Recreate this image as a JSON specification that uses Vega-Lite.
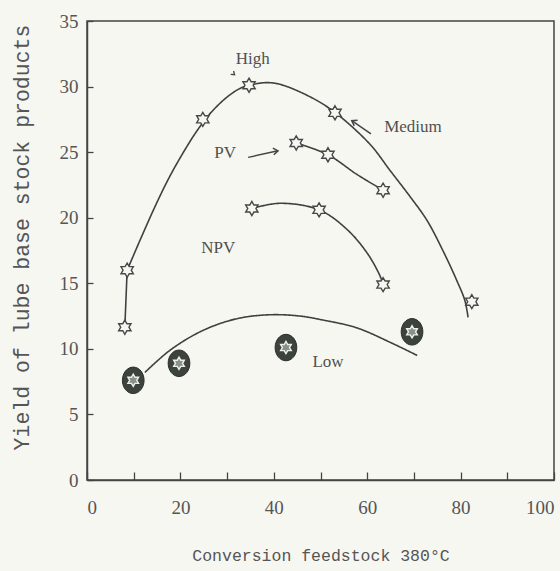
{
  "$schema": "https://vega.github.io/schema/vega-lite/v6.json",
  "width": 467,
  "height": 459,
  "autosize": {"type": "none"},
  "padding": {"left": 87, "top": 21, "right": 6, "bottom": 91},
  "background": "#f7f7f2",
  "config": {
    "view": {"stroke": "#444444", "strokeWidth": 1.5},
    "axis": {
      "grid": false,
      "domainColor": "#444444",
      "domainWidth": 1.5,
      "tickColor": "#444444",
      "tickWidth": 1.3,
      "labelColor": "#555555",
      "titleColor": "#555555",
      "labelFont": "Liberation Serif",
      "labelFontSize": 19,
      "titleFont": "Liberation Mono",
      "titleFontWeight": "normal"
    }
  },
  "datasets": {
    "curves": [
      {"series": "High", "part": 1, "x": 8.1, "y": 11.65},
      {"series": "High", "part": 1, "x": 8.6, "y": 16.0},
      {"series": "High", "part": 2, "x": 8.6, "y": 16.0},
      {"series": "High", "part": 2, "x": 11.5, "y": 18.4},
      {"series": "High", "part": 2, "x": 14.5, "y": 20.8},
      {"series": "High", "part": 2, "x": 17.5, "y": 23.0},
      {"series": "High", "part": 2, "x": 20.5, "y": 24.9},
      {"series": "High", "part": 2, "x": 23.5, "y": 26.6},
      {"series": "High", "part": 2, "x": 26.5, "y": 28.0},
      {"series": "High", "part": 2, "x": 30.0, "y": 29.2},
      {"series": "High", "part": 2, "x": 33.0, "y": 29.9},
      {"series": "High", "part": 2, "x": 36.0, "y": 30.2},
      {"series": "High", "part": 2, "x": 39.0, "y": 30.3},
      {"series": "High", "part": 2, "x": 42.0, "y": 30.1},
      {"series": "High", "part": 2, "x": 48.4, "y": 29.1},
      {"series": "High", "part": 2, "x": 53.2, "y": 28.0},
      {"series": "High", "part": 2, "x": 60.6, "y": 25.6},
      {"series": "High", "part": 2, "x": 64.9, "y": 23.6},
      {"series": "High", "part": 2, "x": 69.2, "y": 21.6},
      {"series": "High", "part": 2, "x": 72.8, "y": 19.8},
      {"series": "High", "part": 2, "x": 76.2, "y": 17.5},
      {"series": "High", "part": 2, "x": 79.2, "y": 15.2},
      {"series": "High", "part": 2, "x": 80.9, "y": 13.7},
      {"series": "High", "part": 2, "x": 81.6, "y": 12.4},
      {"series": "PV", "part": 1, "x": 44.8, "y": 25.7},
      {"series": "PV", "part": 1, "x": 51.6, "y": 24.8},
      {"series": "PV", "part": 1, "x": 57.8, "y": 23.3},
      {"series": "PV", "part": 1, "x": 63.4, "y": 22.1},
      {"series": "NPV", "part": 1, "x": 35.3, "y": 20.7},
      {"series": "NPV", "part": 1, "x": 41.3, "y": 21.1},
      {"series": "NPV", "part": 1, "x": 49.7, "y": 20.6},
      {"series": "NPV", "part": 1, "x": 55.7, "y": 19.1},
      {"series": "NPV", "part": 1, "x": 60.0, "y": 17.3},
      {"series": "NPV", "part": 1, "x": 62.7, "y": 15.6},
      {"series": "NPV", "part": 1, "x": 63.4, "y": 14.9},
      {"series": "Low", "part": 1, "x": 12.4, "y": 8.2},
      {"series": "Low", "part": 1, "x": 17.8, "y": 9.9},
      {"series": "Low", "part": 1, "x": 24.8, "y": 11.4},
      {"series": "Low", "part": 1, "x": 32.1, "y": 12.3},
      {"series": "Low", "part": 1, "x": 39.2, "y": 12.6},
      {"series": "Low", "part": 1, "x": 45.6, "y": 12.5},
      {"series": "Low", "part": 1, "x": 50.5, "y": 12.2},
      {"series": "Low", "part": 1, "x": 57.8, "y": 11.6},
      {"series": "Low", "part": 1, "x": 64.9, "y": 10.5},
      {"series": "Low", "part": 1, "x": 70.7, "y": 9.5}
    ],
    "stars": [
      {"series": "High", "x": 8.1, "y": 11.65},
      {"series": "High", "x": 8.6, "y": 16.0},
      {"series": "High", "x": 24.8, "y": 27.5},
      {"series": "High", "x": 34.7, "y": 30.1},
      {"series": "High", "x": 53.1, "y": 28.0},
      {"series": "High", "x": 82.4, "y": 13.6},
      {"series": "PV", "x": 44.8, "y": 25.7},
      {"series": "PV", "x": 51.6, "y": 24.8},
      {"series": "PV", "x": 63.4, "y": 22.1},
      {"series": "NPV", "x": 35.3, "y": 20.7},
      {"series": "NPV", "x": 49.7, "y": 20.6},
      {"series": "NPV", "x": 63.4, "y": 14.9}
    ],
    "low": [
      {"x": 9.9, "y": 7.6},
      {"x": 19.7, "y": 8.9},
      {"x": 42.6, "y": 10.1},
      {"x": 69.6, "y": 11.3}
    ],
    "labels": [
      {"text": "High", "x": 35.5, "y": 32.1},
      {"text": "Medium", "x": 69.8, "y": 26.9},
      {"text": "PV", "x": 29.6, "y": 24.9},
      {"text": "NPV", "x": 28.1, "y": 17.7},
      {"text": "Low", "x": 51.6, "y": 9.0}
    ],
    "arrows": [
      {"id": "Medium", "x": 60.8, "y": 26.4, "x2": 56.7, "y2": 27.4},
      {"id": "PV", "x": 34.5, "y": 24.6, "x2": 40.9, "y2": 25.1}
    ],
    "heads": [
      {"id": "Medium", "x": 56.7, "y": 27.4},
      {"id": "PV", "x": 40.9, "y": 25.1},
      {"id": "High", "x": 31.6, "y": 30.9}
    ]
  },
  "encoding": {
    "x": {
      "field": "x", "type": "quantitative",
      "scale": {"domain": [0, 100], "nice": false, "zero": false},
      "axis": {
        "values": [0, 10, 20, 30, 40, 50, 60, 70, 80, 90, 100],
        "labelExpr": "datum.value % 20 === 0 ? datum.label : ''",
        "tickSize": -8,
        "labelPadding": 35,
        "labelBaseline": "middle",
        "title": "Conversion feedstock 380°C",
        "titleFontSize": 16.5,
        "titleBaseline": "alphabetic",
        "titleY": 80
      }
    },
    "y": {
      "field": "y", "type": "quantitative",
      "scale": {"domain": [0, 35], "nice": false, "zero": false},
      "axis": {
        "values": [0, 5, 10, 15, 20, 25, 30, 35],
        "tickSize": -6,
        "labelPadding": 15,
        "title": "Yield of lube base stock products",
        "titleFontSize": 21.5,
        "titleBaseline": "alphabetic",
        "titleX": -59,
        "titleY": 216
      }
    }
  },
  "layer": [
    {
      "data": {"name": "curves"},
      "mark": {"type": "line", "interpolate": "catmull-rom", "stroke": "#404040", "strokeWidth": 1.6},
      "encoding": {"detail": {"field": "series"}, "strokeDash": {"field": "part", "type": "nominal", "legend": null, "scale": {"range": [[1, 0], [1, 0]]}}}
    },
    {
      "data": {"name": "stars"},
      "mark": {"type": "point", "shape": "M0,-1L0.29,-0.5L0.87,-0.5L0.58,0L0.87,0.5L0.29,0.5L0,1L-0.29,0.5L-0.87,0.5L-0.58,0L-0.87,-0.5L-0.29,-0.5Z", "size": 200, "filled": false, "fill": "#f7f7f2", "fillOpacity": 1, "stroke": "#474747", "strokeWidth": 1.4, "opacity": 1}
    },
    {
      "data": {"name": "low"},
      "mark": {"type": "point", "shape": "M0,-1A0.82,1 0 1,1 0,1A0.82,1 0 1,1 0,-1Z", "size": 700, "filled": true, "fill": "#3c423c", "stroke": "#2c302c", "strokeWidth": 1, "opacity": 1}
    },
    {
      "data": {"name": "low"},
      "mark": {"type": "point", "shape": "M0,-1L0.29,-0.5L0.87,-0.5L0.58,0L0.87,0.5L0.29,0.5L0,1L-0.29,0.5L-0.87,0.5L-0.58,0L-0.87,-0.5L-0.29,-0.5Z", "size": 150, "filled": false, "fill": "#8a908a", "fillOpacity": 1, "stroke": "#f0f0ea", "strokeWidth": 1.4, "opacity": 1}
    },
    {
      "data": {"name": "labels"},
      "mark": {"type": "text", "font": "Liberation Serif", "fontSize": 17, "color": "#505050", "align": "center", "baseline": "middle"},
      "encoding": {"text": {"field": "text"}}
    },
    {
      "data": {"name": "arrows"},
      "mark": {"type": "rule", "stroke": "#454545", "strokeWidth": 1.5},
      "encoding": {"x2": {"field": "x2"}, "y2": {"field": "y2"}}
    },
    {
      "data": {"name": "heads"},
      "transform": [{"filter": "datum.id === 'PV'"}],
      "mark": {"type": "point", "shape": "M-1,-0.7L0,0L-1,0.7", "size": 90, "filled": false, "stroke": "#454545", "strokeWidth": 1.5, "angle": -8, "opacity": 1}
    },
    {
      "data": {"name": "heads"},
      "transform": [{"filter": "datum.id === 'Medium'"}],
      "mark": {"type": "point", "shape": "M-1,-0.7L0,0L-1,0.7", "size": 90, "filled": false, "stroke": "#454545", "strokeWidth": 1.5, "angle": 210, "opacity": 1}
    },
    {
      "data": {"name": "heads"},
      "transform": [{"filter": "datum.id === 'High'"}],
      "mark": {"type": "point", "shape": "M-1,-0.7L0,0L-1,0.7", "size": 40, "filled": false, "stroke": "#454545", "strokeWidth": 1.3, "angle": 40, "opacity": 1}
    }
  ]
}
